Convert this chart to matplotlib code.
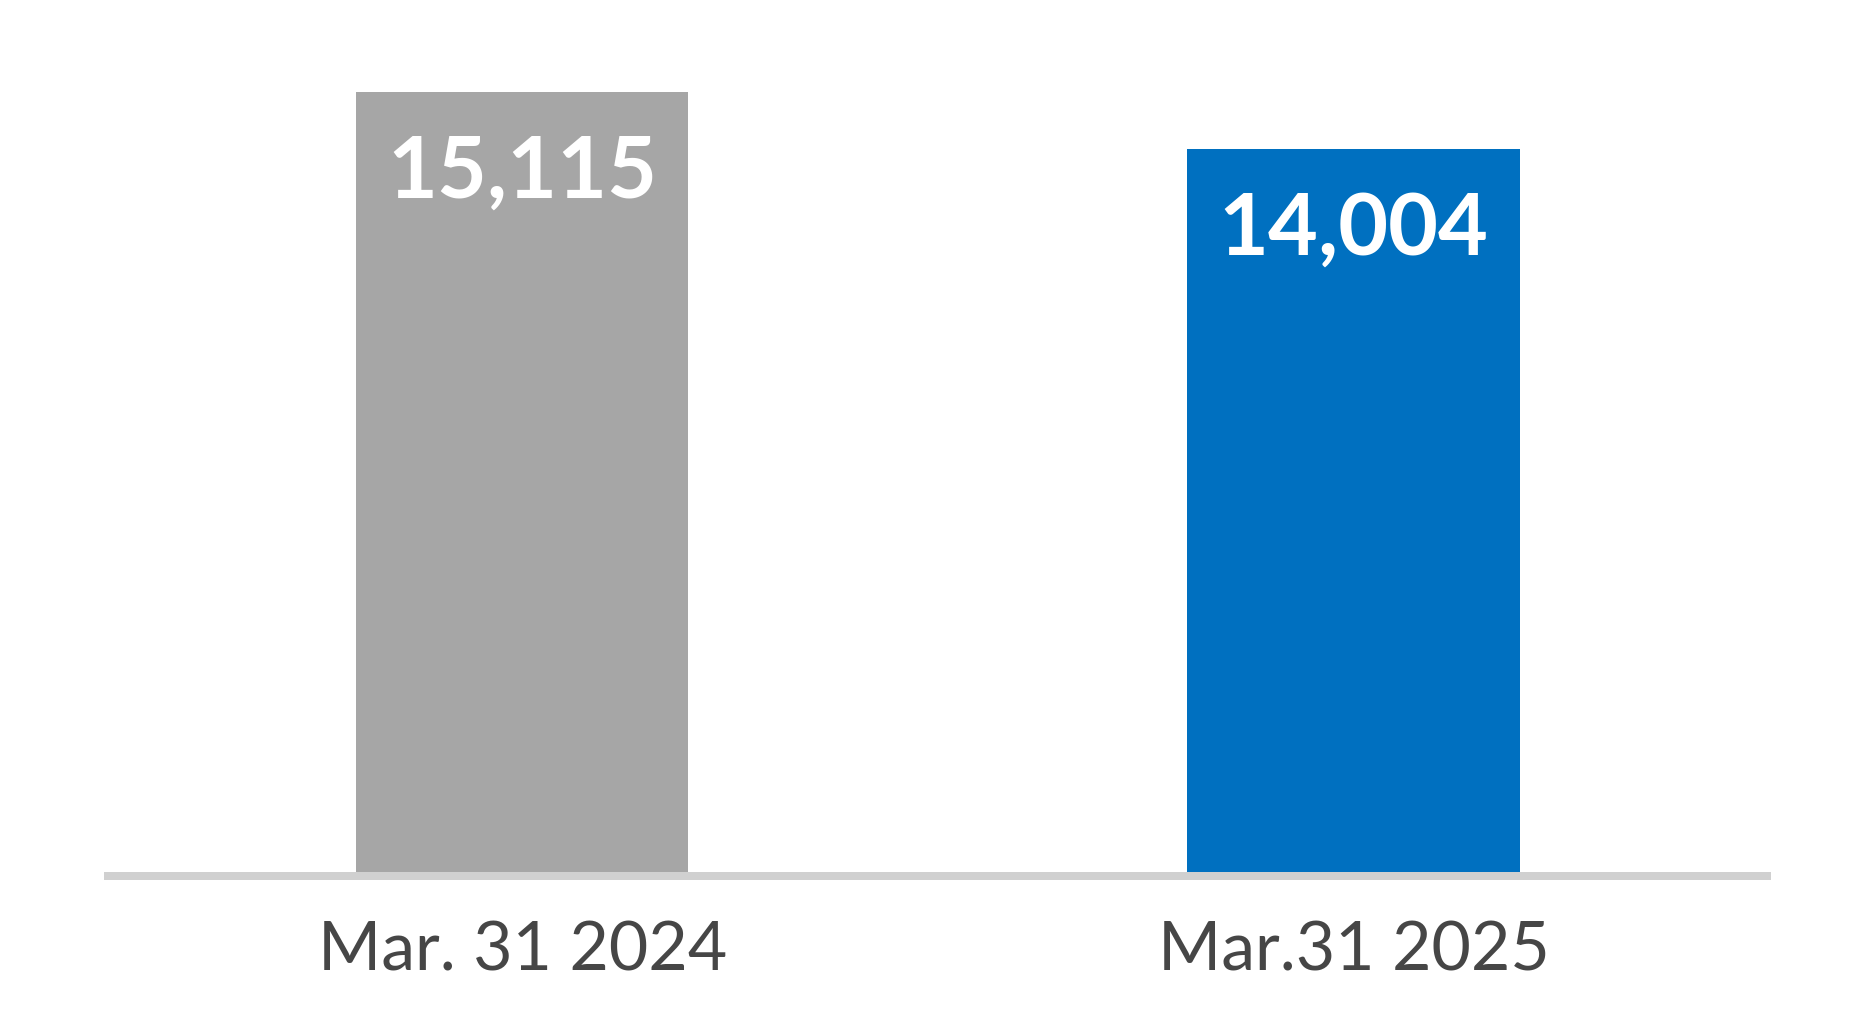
import matplotlib
matplotlib.use("Agg")
import matplotlib.pyplot as plt

categories = ["Mar. 31 2024", "Mar.31 2025"]
values = [15115, 14004]
value_labels = ["15,115", "14,004"]
colors = ["#a6a6a6", "#0070c0"]

W, H, DPI = 1875, 1022, 100
fig = plt.figure(figsize=(W / DPI, H / DPI), dpi=DPI)
fig.patch.set_facecolor("white")

left_px, right_px = 104, 1771
bottom_px, top_px = 871.5, 40
ax = fig.add_axes([left_px / W, (H - bottom_px) / H,
                   (right_px - left_px) / W, (bottom_px - top_px) / H])

x = list(range(len(categories)))
ax.bar(x, values, width=0.4, color=colors, zorder=1)
ax.set_xlim(-0.503, 1.502)
ax.set_ylim(0, 16120)

for xi, v, lab in zip(x, values, value_labels):
    ax.annotate(lab, xy=(xi, v), xytext=(0, -76), textcoords="offset points",
                ha="center", va="baseline", color="white",
                fontsize=62, fontweight="bold", family=["Lato", "DejaVu Sans"])

for s in ["top", "left", "right"]:
    ax.spines[s].set_visible(False)
ax.spines["bottom"].set_position(("outward", 2.88))
ax.spines["bottom"].set_linewidth(5.76)
ax.spines["bottom"].set_color("#d0d0d0")
ax.spines["bottom"].set_capstyle("butt")

ax.set_yticks([])
ax.set_xticks(x, categories)
ax.tick_params(axis="x", length=0, pad=68.5)
for lbl in ax.get_xticklabels():
    lbl.set_va("baseline")
    lbl.set_fontsize(49)
    lbl.set_color("#464646")
    lbl.set_family(["Lato", "DejaVu Sans"])
    lbl.set_fontweight("normal")

ax.set_facecolor("none")
fig.savefig("out.png", dpi=DPI, facecolor="white")
